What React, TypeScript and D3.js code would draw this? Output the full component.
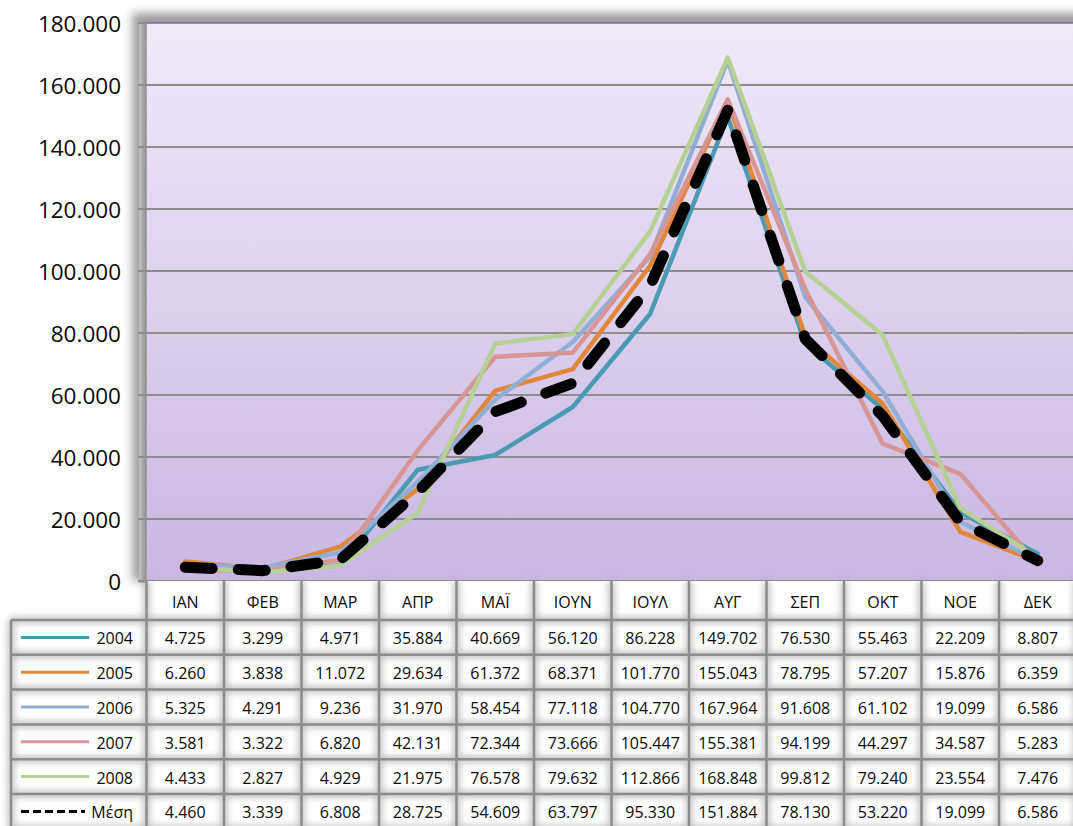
import React from "react";
import * as d3 from "d3";

// Monthly arrivals per year, with the average row
const months = ["ΙΑΝ", "ΦΕΒ", "ΜΑΡ", "ΑΠΡ", "ΜΑΪ", "ΙΟΥΝ", "ΙΟΥΛ", "ΑΥΓ", "ΣΕΠ", "ΟΚΤ", "ΝΟΕ", "ΔΕΚ"];
const v2004 = [4725, 3299, 4971, 35884, 40669, 56120, 86228, 149702, 76530, 55463, 22209, 8807];
const v2005 = [6260, 3838, 11072, 29634, 61372, 68371, 101770, 155043, 78795, 57207, 15876, 6359];
const v2006 = [5325, 4291, 9236, 31970, 58454, 77118, 104770, 167964, 91608, 61102, 19099, 6586];
const v2007 = [3581, 3322, 6820, 42131, 72344, 73666, 105447, 155381, 94199, 44297, 34587, 5283];
const v2008 = [4433, 2827, 4929, 21975, 76578, 79632, 112866, 168848, 99812, 79240, 23554, 7476];
const vMean = [4460, 3339, 6808, 28725, 54609, 63797, 95330, 151884, 78130, 53220, 19099, 6586];
const seriesNames = ["2004", "2005", "2006", "2007", "2008", "Μέση"];
const yTicks = [0, 20000, 40000, 60000, 80000, 100000, 120000, 140000, 160000, 180000];

const seriesValues = [v2004, v2005, v2006, v2007, v2008, vMean];
const seriesColors = ["#4A9BB1", "#E2873A", "#93AED4", "#D79593", "#B6D193", "#000000"];

const W = 1073;
const H = 826;
const plotLeft = 146.5;
const colW = 77.5;
const plotTop = 23;
const plotBottom = 581;
const rowTop = 620;
const rowH = 34.8;
const legendLeft = 11;
const meanDash = 27;
const meanPeriod = 52;

const fmt = d3
  .formatLocale({ decimal: ",", thousands: ".", grouping: [3], currency: ["", "€"] })
  .format(",.0f");

const FONT = "'Open Sans', 'Noto Sans', sans-serif";

export default function App() {
  const x = d3
    .scaleBand<string>()
    .domain(months)
    .range([plotLeft, plotLeft + colW * months.length])
    .padding(0);
  const y = d3.scaleLinear().domain([0, 180000]).range([plotBottom, plotTop]);
  const cx = (m: string) => (x(m) as number) + x.bandwidth() / 2;

  const line = d3
    .line<number>()
    .x((_, i) => cx(months[i]))
    .y((d) => y(d));

  // Fit the average line's dash period so that a dash ends on the peak month
  const peakIdx = d3.maxIndex(vMean);
  let toPeak = 0;
  for (let i = 1; i <= peakIdx; i++) {
    toPeak += Math.hypot(cx(months[i]) - cx(months[i - 1]), y(vMean[i]) - y(vMean[i - 1]));
  }
  const nDashes = Math.max(1, Math.round((toPeak - meanDash) / meanPeriod));
  const period = (toPeak - meanDash) / nDashes;
  const meanDashArray = `${meanDash} ${period - meanDash}`;

  const tableRight = plotLeft + colW * months.length;
  const rowLines = d3.range(seriesNames.length + 1).map((i) => rowTop + i * rowH);
  const colLines = d3.range(months.length + 1).map((i) => plotLeft + i * colW);

  const gridPaths = (stroke: string, width: number) => (
    <g stroke={stroke} strokeWidth={width} fill="none">
      {colLines.map((cxl, i) => (
        <line key={"c" + i} x1={cxl} x2={cxl} y1={plotBottom} y2={H + 10} />
      ))}
      <line x1={legendLeft} x2={legendLeft} y1={rowTop} y2={H + 10} />
      {rowLines.map((ry, i) => (
        <line key={"r" + i} x1={legendLeft} x2={tableRight} y1={ry} y2={ry} />
      ))}
    </g>
  );

  return (
    <svg
      width={W}
      height={H}
      style={{ position: "absolute", left: 0, top: 0, background: "#ffffff" }}
      fontFamily={FONT}
    >
      <defs>
        <linearGradient id="plotBg" x1="0" y1="0" x2="0" y2="1">
          <stop offset="0" stopColor="#F0EAF8" />
          <stop offset="1" stopColor="#C9B7E3" />
        </linearGradient>
        <linearGradient id="wall" x1="0" y1="0" x2="1" y2="0">
          <stop offset="0" stopColor="#C4C4C4" />
          <stop offset="1" stopColor="#8E8E8E" />
        </linearGradient>
        <filter id="soft" x="-10%" y="-10%" width="120%" height="120%">
          <feGaussianBlur stdDeviation="5" />
        </filter>
        <filter id="glow" x="-5%" y="-5%" width="110%" height="110%">
          <feGaussianBlur stdDeviation="3" />
        </filter>
      </defs>

      {/* outer shadow of the plot area */}
      <rect
        x={plotLeft - 14}
        y={plotTop - 10}
        width={W}
        height={plotBottom - plotTop + 10}
        fill="#7a7a7a"
        opacity={0.75}
        filter="url(#soft)"
      />
      <rect x={plotLeft} y={plotTop} width={W - plotLeft + 5} height={plotBottom - plotTop} fill="url(#plotBg)" />
      <rect x={139} y={plotTop} width={plotLeft - 139} height={plotBottom - plotTop + 2} fill="url(#wall)" />
      <line x1={plotLeft} x2={W} y1={plotTop} y2={plotTop} stroke="#8064A2" strokeWidth={1.5} />

      {/* horizontal gridlines, ticks and labels */}
      <g>
        {yTicks.map((t) => (
          <g key={t}>
            {t > 0 && t < 180000 && (
              <line x1={plotLeft} x2={W} y1={y(t)} y2={y(t)} stroke="#8C8C8C" strokeWidth={2} />
            )}
            <line x1={138} x2={plotLeft} y1={y(t)} y2={y(t)} stroke="#8C8C8C" strokeWidth={2} />
            <text
              x={121}
              y={y(t)}
              textAnchor="end"
              dominantBaseline="central"
              fontSize={22.5}
              fill="#0a0a0a"
            >
              {fmt(t)}
            </text>
          </g>
        ))}
        <line x1={138} x2={W} y1={plotBottom} y2={plotBottom} stroke="#8C8C8C" strokeWidth={2} />
      </g>

      {/* series lines */}
      <g fill="none">
        {seriesValues.map((vals, si) => {
          const isMean = si === seriesValues.length - 1;
          return (
            <path
              key={seriesNames[si]}
              d={line(vals) as string}
              stroke={seriesColors[si]}
              strokeWidth={isMean ? 11 : 4.5}
              strokeDasharray={isMean ? meanDashArray : undefined}
              strokeLinecap="round"
              strokeLinejoin="round"
            />
          );
        })}
      </g>

      {/* data table */}
      <rect x={legendLeft} y={rowTop} width={tableRight - legendLeft} height={H - rowTop + 10} fill="#ffffff" />
      <rect x={plotLeft} y={plotBottom} width={tableRight - plotLeft} height={rowTop - plotBottom} fill="#ffffff" />
      <g filter="url(#glow)" opacity={0.6}>
        {gridPaths("#9a9a9a", 7)}
      </g>
      {gridPaths("#8C8C8C", 2.5)}

      <g fontSize={16} fill="#0a0a0a" textAnchor="middle" dominantBaseline="central">
        {months.map((m) => (
          <text key={m} x={cx(m)} y={(plotBottom + rowTop) / 2 + 1}>
            {m}
          </text>
        ))}
        {seriesValues.map((vals, si) =>
          vals.map((v, mi) => (
            <text key={si + "-" + mi} x={cx(months[mi])} y={rowTop + rowH * (si + 0.5) + 1}>
              {fmt(v)}
            </text>
          ))
        )}
      </g>

      {/* legend keys */}
      <g>
        {seriesNames.map((name, si) => {
          const ry = rowTop + rowH * (si + 0.5);
          const isMean = si === seriesNames.length - 1;
          return (
            <g key={name}>
              <line
                x1={21}
                x2={isMean ? 85 : 89}
                y1={ry}
                y2={ry}
                stroke={seriesColors[si]}
                strokeWidth={3}
                strokeDasharray={isMean ? "8 4" : undefined}
              />
              <text x={133} y={ry + 1} textAnchor="end" dominantBaseline="central" fontSize={16} fill="#0a0a0a">
                {name}
              </text>
            </g>
          );
        })}
      </g>
    </svg>
  );
}
